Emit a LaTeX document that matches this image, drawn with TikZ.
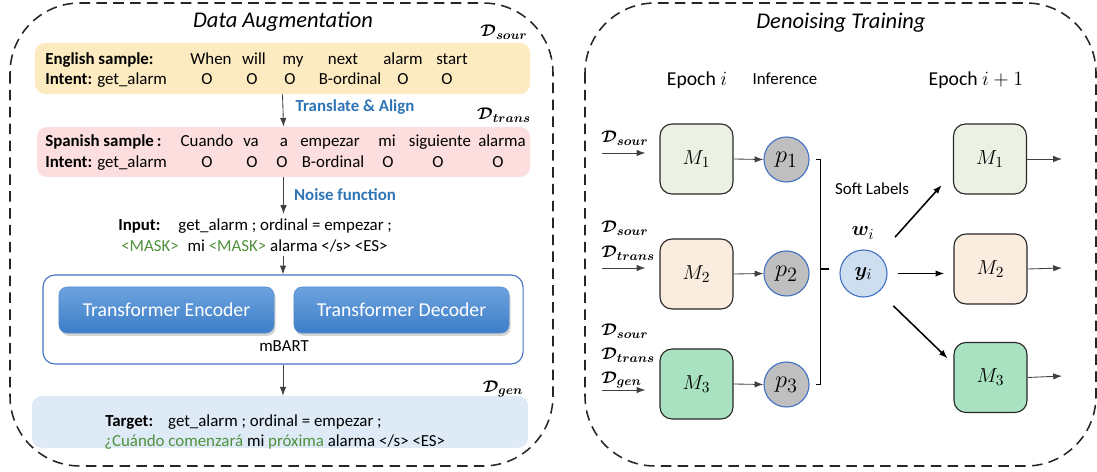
\documentclass[tikz,border=0pt]{standalone}
\usepackage{fontspec}
\setmainfont{Carlito}
\usepackage{amsmath}
\usepackage{bm}
\usepackage{xcolor}
\usepackage{tikz}
\usetikzlibrary{arrows.meta, shadows}

\definecolor{engyellow}{RGB}{252,235,193}
\definecolor{spapink}{RGB}{253,222,222}
\definecolor{tgtblue}{RGB}{222,235,247}
\definecolor{stepblue}{RGB}{46,117,182}
\definecolor{maskgreen}{RGB}{80,145,60}
\definecolor{coderTop}{RGB}{108,163,222}
\definecolor{coderBot}{RGB}{61,125,200}
\definecolor{coderEdge}{RGB}{90,140,205}
\definecolor{mbartblue}{RGB}{68,114,196}
\definecolor{modelEdge}{RGB}{40,40,40}
\definecolor{mgreen}{RGB}{235,242,228}
\definecolor{mpeach}{RGB}{251,236,224}
\definecolor{mmint}{RGB}{168,226,193}
\definecolor{probGray}{RGB}{191,191,191}
\definecolor{probEdge}{RGB}{68,114,196}
\definecolor{ylight}{RGB}{204,222,240}

\newcommand{\dset}[1]{$\bm{\mathcal{D}}_{\bm{#1}}$}

\begin{document}
\begin{tikzpicture}[x=0.025cm, y=-0.025cm, font=\fontsize{12}{14.4}\selectfont,
		>={Latex[length=2.2mm, width=1.6mm]},
		panel/.style={draw=black!85, line width=1.1pt, dash pattern=on 7.5pt off 4.5pt, rounded corners=1.75cm},
		samplebox/.style={rectangle, rounded corners=2.5mm, inner sep=0pt},
		word/.style={anchor=base, inner sep=0pt},
		dlabel/.style={inner sep=0pt, font=\fontsize{13}{15}\selectfont},
		steplabel/.style={anchor=base, inner sep=0pt, text=stepblue, font=\fontsize{12}{14.4}\selectfont\bfseries},
		coder/.style={rectangle, rounded corners=2mm, minimum width=5.375cm, minimum height=1.15cm, top color=coderTop, bottom color=coderBot, draw=coderEdge, text=white, font=\fontsize{14}{16}\selectfont, drop shadow={shadow xshift=0.4mm, shadow yshift=-0.7mm, opacity=0.35}},
		model/.style={rectangle, rounded corners=3mm, draw=modelEdge, line width=0.8pt, minimum width=1.825cm, minimum height=1.75cm, font=\fontsize{15}{17}\selectfont},
		prob/.style={circle, draw=probEdge, line width=0.8pt, fill=probGray, minimum size=1.125cm, inner sep=0pt, font=\fontsize{19}{21}\selectfont},
		flow/.style={->, draw=black!75, line width=0.6pt},
		push/.style={->, line width=1.1pt},
		bracket/.style={line width=1.2pt}]
	\useasboundingbox (0,0) rectangle (1097,472);
	
	% Dashed panels
	\draw[panel] (10,3) rectangle (553,466);
	\draw[panel] (585,3) rectangle (1096,466);
	
	% ---------------- Data Augmentation ----------------
	\node[anchor=base, font=\fontsize{16}{19}\selectfont\itshape] (augtitle) at (283,28) {Data Augmentation};
	\node[dlabel] (dsour) at (504,32) {\dset{sour}};
	
	% English sample
	\node[samplebox, fill=engyellow, minimum width=12.375cm, minimum height=1.275cm] (eng) at (282.5,68.5) {};
	\node[word, anchor=base west] (englab) at (45,65) {\textbf{English sample:}};
	\foreach \x/\w in {211/When, 254/will, 293/my, 343/next, 403/alarm, 452/start}
		\node[word] (ew\x) at (\x,65) {\w};
	\node[word, anchor=base west] (enint) at (45,85) {\textbf{Intent:} get\_alarm};
	\foreach \x/\w in {207/O, 252/O, 290/O, 350/B-ordinal, 403/O, 447/O}
		\node[word] (et\x) at (\x,85) {\w};
	
	% Spanish sample
	\node[samplebox, fill=spapink, minimum width=12.325cm, minimum height=1.25cm] (spa) at (283.5,152) {};
	\node[word, anchor=base west] (spalab) at (45,147) {\textbf{Spanish sample\,:}};
	\foreach \x/\w in {207/Cuando, 251/va, 284/a, 330/empezar, 387/mi, 440/siguiente, 502/alarma}
		\node[word] (sw\x) at (\x,147) {\w};
	\node[word, anchor=base west] (spint) at (45,168) {\textbf{Intent:} get\_alarm};
	\foreach \x/\w in {207/O, 252/O, 282/O, 333/B-ordinal, 388/O, 438/O, 498/O}
		\node[word] (st\x) at (\x,168) {\w};
	
	\draw[flow] (eng.south) -- (spa.north);
	\node[steplabel] (transl) at (355,112) {Translate \& Align};
	\node[dlabel] (dtrans) at (504,115) {\dset{trans}};
	
	% Noised input
	\node[word, anchor=base west, inner ysep=1mm] (inp) at (118,230) {\textbf{Input:}\hspace{0.45cm}get\_alarm ; ordinal = empezar ;};
	\node[word, anchor=base west, inner ysep=1mm] (msk) at (121,251) {\textcolor{maskgreen}{<MASK>}\hspace{0.3em} mi \textcolor{maskgreen}{<MASK>} alarma </s> <ES>};
	\draw[flow] (spa.south) -- (spa.south |- inp.north);
	\node[steplabel] (noise) at (345,201) {Noise function};
	
	% mBART
	\node[rectangle, rounded corners=3mm, draw=mbartblue, line width=0.8pt, minimum width=12cm, minimum height=2.225cm] (mbart) at (283,319.5) {};
	\node[coder] (enc) at (166.5,310) {Transformer Encoder};
	\node[coder] (dec) at (401.5,310) {Transformer Decoder};
	\node[word] (mbartlab) at (284,351) {mBART};
	\draw[flow] (msk.south -| mbart.north) -- (mbart.north);
	
	% Generated target
	\node[samplebox, fill=tgtblue, minimum width=12.4cm, minimum height=1.3cm] (tgt) at (280,422) {};
	\draw[flow] (mbart.south) -- (mbart.south |- tgt.north);
	\node[dlabel] (dgen) at (503,389) {\dset{gen}};
	\node[word, anchor=base west] (tgtA) at (105,426) {\textbf{Target:}\hspace{0.375cm}get\_alarm ; ordinal = empezar ;};
	\node[word, anchor=base west] (tgtB) at (104,446) {\textcolor{maskgreen}{¿Cuándo comenzará} mi \textcolor{maskgreen}{próxima} alarma </s> <ES>};
	
	% ---------------- Denoising Training ----------------
	\node[anchor=base, font=\fontsize{16}{19}\selectfont\itshape] (dntitle) at (841,29) {Denoising Training};
	\node[anchor=base, font=\fontsize{14}{16}\selectfont] (ep1) at (697,86) {Epoch $i$};
	\node[anchor=base] (infer) at (785,85) {Inference};
	\node[anchor=base, font=\fontsize{14}{16}\selectfont] (ep2) at (976,86) {Epoch $i+1$};
	
	% Epoch i models and predictions
	\node[model, fill=mgreen] (m1) at (696.5,159) {$M_1$};
	\node[model, fill=mpeach] (m2) at (696.5,274) {$M_2$};
	\node[model, fill=mmint] (m3) at (696.5,384) {$M_3$};
	\node[prob] (p1) at (786.5,159.5) {$p_1$};
	\node[prob] (p2) at (786.5,273.5) {$p_2$};
	\node[prob] (p3) at (786.5,384.5) {$p_3$};
	\foreach \i in {1,2,3}
		\draw[flow] (m\i.east) -- (p\i.west);
	
	% Training data per model
	\coordinate (in1) at (602,153);
	\coordinate (in2) at (602,268);
	\coordinate (in3) at (602,390);
	\foreach \i in {1,2,3}
		\draw[flow, shorten >=3.5mm] (in\i) -- (in\i -| m\i.west);
	\node[dlabel, anchor=west] (d1a) at (601,138) {\dset{sour}};
	\node[dlabel, anchor=west] (d2a) at (601,228) {\dset{sour}};
	\node[dlabel, anchor=west] (d2b) at (601,253) {\dset{trans}};
	\node[dlabel, anchor=west] (d3a) at (601,331) {\dset{sour}};
	\node[dlabel, anchor=west] (d3b) at (601,355) {\dset{trans}};
	\node[dlabel, anchor=west] (d3c) at (601,380) {\dset{gen}};
	
	% Soft labels
	\node[prob, fill=ylight, minimum size=1.175cm, font=\fontsize{15}{17}\selectfont] (yi) at (863.5,273.5) {$\bm{y}_i$};
	\draw[bracket] ([xshift=1.5mm]p1.east) -- ++(5,0) |- ([xshift=1.5mm]p3.east);
	\coordinate (brk) at (820,269);
	\draw[bracket, shorten >=2.5mm] (brk) -- (brk -| yi.west);
	\node[font=\fontsize{15}{17}\selectfont] (wi) at (863,233) {$\bm{w}_i$};
	\node[anchor=base] (soft) at (872,195) {Soft Labels};
	
	% Epoch i+1 models
	\node[model, fill=mgreen] (m1b) at (990,159) {$M_1$};
	\node[model, fill=mpeach] (m2b) at (990.5,269) {$M_2$};
	\node[model, fill=mmint] (m3b) at (990.5,377.5) {$M_3$};
	\draw[push, shorten <=6mm, shorten >=4.2mm] (yi.50) -- (m1b.200);
	\draw[push, shorten <=2.5mm, shorten >=2.25mm] (yi.east) -- (yi.east -| m2b.west);
	\draw[push, shorten <=5mm, shorten >=2mm] (yi.-50) -- (m3b.160);
	
	\coordinate (out1) at (1062,159);
	\coordinate (out2) at (1062,268);
	\coordinate (out3) at (1062,376);
	\draw[flow] (m1b.east) -- (out1);
	\draw[flow] (m2b.east) -- (out2);
	\draw[flow] (m3b.east) -- (out3);
	
\end{tikzpicture}
\end{document}
